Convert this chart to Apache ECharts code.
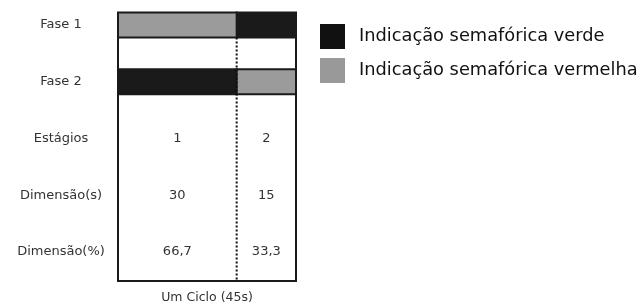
<!DOCTYPE html>
<html>
<head>
<meta charset="utf-8">
<script src="https://cdn.jsdelivr.net/npm/echarts@6/dist/echarts.min.js"></script>
<style>
html, body { margin: 0; padding: 0; background: #fff; }
#chart { width: 639px; height: 305px; }
</style>
</head>
<body>
<div id="chart"></div>
<script>
// linhas da tabela (eixo y)
const rowLabels = ['Fase 1', 'Fase 2', 'Estágios', 'Dimensão(s)', 'Dimensão(%)'];
// estágios do ciclo
const stageNames = ['1', '2'];
const stageDur = [30, 15];
const stagePct = ['66,7', '33,3'];
const cycle = 45;
// intervalos [inicio, fim, linha da fase]
const greenData = [[30, 45, 0], [0, 30, 1]];
const redData = [[0, 30, 0], [30, 45, 1]];

const font = 'DejaVu Sans';
const half = 0.22;
const yMin = -0.21, yMax = 4.51;

function barItem(color) {
    return function (params, api) {
        let s = api.coord([api.value(0), api.value(2) - half]);
        let e = api.coord([api.value(1), api.value(2) + half]);
        return {
            type: 'rect',
            shape: { x: s[0], y: s[1], width: e[0] - s[0], height: e[1] - s[1] },
            style: { fill: color, stroke: '#1a1a1a', lineWidth: 2 }
        };
    };
}

// celulas de texto: centro de cada estagio
let cells = [];
let acc = 0;
stageDur.forEach((d, i) => {
    let mid = acc + d / 2;
    cells.push([mid, 2, stageNames[i]]);
    cells.push([mid, 3, String(d)]);
    cells.push([mid, 4, stagePct[i]]);
    acc += d;
});

// divisorias entre estagios
let dividers = [];
acc = 0;
for (let i = 0; i < stageDur.length - 1; i++) {
    acc += stageDur[i];
    dividers.push([acc, half, yMax]);
}

let myChart = echarts.init(document.getElementById('chart'));
let option = {
    animation: false,
    textStyle: { fontFamily: font },
    legend: {
        orient: 'vertical',
        left: 320,
        top: 24,
        padding: 0,
        itemWidth: 25,
        itemHeight: 25,
        itemGap: 9,
        selectedMode: false,
        icon: 'rect',
        data: ['Indicação semafórica verde', 'Indicação semafórica vermelha'],
        textStyle: { fontSize: 17.8, color: '#111', fontFamily: font, padding: [0, 0, 0, 9] }
    },
    grid: {
        left: 118,
        top: 13,
        width: 178,
        height: 268,
        outerBoundsMode: 'none',
        show: true,
        borderColor: '#1a1a1a',
        borderWidth: 2,
        backgroundColor: '#fff'
    },
    xAxis: {
        type: 'value',
        min: 0,
        max: cycle,
        name: 'Um Ciclo (' + cycle + 's)',
        nameLocation: 'middle',
        nameGap: 10,
        nameTextStyle: { fontSize: 12.5, color: '#333', fontFamily: font },
        axisLine: { show: false },
        axisTick: { show: false },
        axisLabel: { show: false },
        splitLine: { show: false }
    },
    yAxis: {
        type: 'value',
        inverse: true,
        min: yMin,
        max: yMax,
        axisLine: { show: false },
        axisTick: { show: false },
        splitLine: { show: false },
        axisLabel: {
            customValues: [0, 1, 2, 3, 4],
            formatter: v => rowLabels[Math.round(v)],
            align: 'center',
            margin: 57,
            fontSize: 13,
            color: '#333',
            fontFamily: font
        }
    },
    series: [
        {
            name: 'Indicação semafórica verde',
            type: 'custom',
            itemStyle: { color: '#111' },
            renderItem: barItem('#1a1a1a'),
            encode: { x: [0, 1], y: 2 },
            data: greenData
        },
        {
            name: 'Indicação semafórica vermelha',
            type: 'custom',
            itemStyle: { color: '#999' },
            renderItem: barItem('#9b9b9b'),
            encode: { x: [0, 1], y: 2 },
            data: redData
        },
        {
            type: 'custom',
            renderItem: function (params, api) {
                let a = api.coord([api.value(0), api.value(1)]);
                let b = api.coord([api.value(0), api.value(2)]);
                return {
                    type: 'line',
                    shape: { x1: a[0], y1: a[1], x2: b[0], y2: b[1] },
                    style: { stroke: '#111', lineWidth: 2, lineDash: [2, 2] }
                };
            },
            encode: { x: 0, y: [1, 2] },
            data: dividers
        },
        {
            type: 'custom',
            renderItem: function (params, api) {
                let p = api.coord([api.value(0), api.value(1)]);
                return {
                    type: 'text',
                    x: p[0],
                    y: p[1],
                    style: {
                        text: cells[params.dataIndex][2],
                        fill: '#333',
                        font: '13px "DejaVu Sans"',
                        align: 'center',
                        verticalAlign: 'middle'
                    }
                };
            },
            encode: { x: 0, y: 1 },
            data: cells
        }
    ]
};
myChart.setOption(option);
</script>
</body>
</html>
